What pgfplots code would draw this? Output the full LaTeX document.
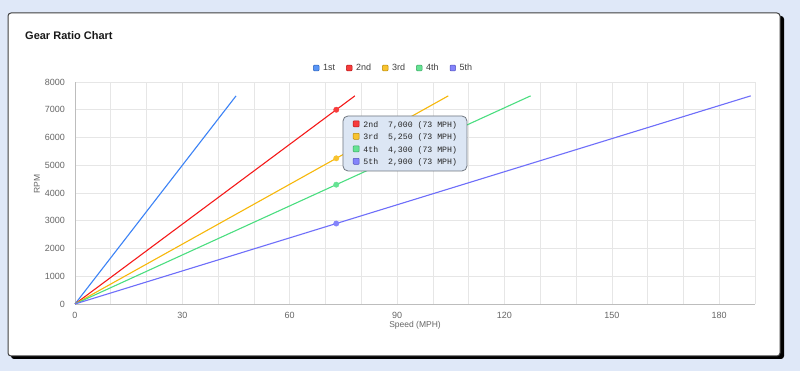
\documentclass[border=0pt]{standalone}
\usepackage{pgfplots}
\pgfplotsset{compat=1.18}
\usepackage{fontspec}
\setmainfont{Liberation Sans}
\newfontfamily\monofont{Liberation Mono}
\definecolor{bg}{HTML}{DFE8F8}
\definecolor{cA}{HTML}{3B82F6}
\definecolor{cB}{HTML}{F51A1A}
\definecolor{cC}{HTML}{F7B80A}
\definecolor{cD}{HTML}{4ADE80}
\definecolor{cE}{HTML}{6E6EFA}
\definecolor{tickgray}{HTML}{666666}
\definecolor{gridgray}{HTML}{E6E6E6}
\definecolor{axisgray}{HTML}{BDBDBD}
\definecolor{tipfill}{HTML}{DCE6F4}
\definecolor{tipdraw}{HTML}{707780}
\newcommand{\sq}[1]{\tikz[baseline=-0.5pt]\filldraw[fill=#1!85,draw=#1!75!black,line width=0.5pt,rounded corners=0.8pt] (0,0) rectangle (6pt,6pt);}
\begin{document}
\begin{tikzpicture}[x=1pt,y=1pt]
\fill[bg] (0,0) rectangle (800,371);
\fill[black,rounded corners=3pt] (11,12) rectangle (784,355);
\filldraw[fill=white,draw=black!75,line width=1pt,rounded corners=3pt] (8,15) rectangle (780,358);
\node[anchor=base west,inner sep=0pt,font=\fontsize{11}{13}\selectfont\bfseries,text=black!90] at (25,331) {Gear Ratio Chart};
\begin{axis}[
  at={(75pt,67pt)}, anchor=south west,
  scale only axis, width=680pt, height=222pt,
  xmin=0, xmax=190, ymin=0, ymax=8000,
  xtick={0,30,60,90,120,150,180},
  minor xtick={10,20,40,50,70,80,100,110,130,140,160,170,190},
  ytick={0,1000,...,8000},
  grid=both,
  major grid style={gridgray,line width=0.6pt},
  minor grid style={gridgray,line width=0.6pt},
  axis lines=left,
  axis line style={axisgray,line width=0.8pt,-},
  major tick length=0pt, minor tick length=0pt,
  /pgf/number format/assume math mode=true,
  scaled y ticks=false,
  yticklabel={\pgfmathprintnumber[fixed,1000 sep={}]{\tick}},
  ticklabel style={font=\fontsize{9}{11}\selectfont, text=tickgray},
  yticklabel style={xshift=-6.5pt},
  xticklabel style={yshift=-5pt},
  xlabel={Speed (MPH)}, ylabel={RPM},
  label style={font=\fontsize{8.5}{10}\selectfont, text=tickgray},
  xlabel style={at={(axis description cs:0.5,0)},anchor=base,yshift=-24pt},
  ylabel style={at={(axis description cs:-0.056,0.54)},anchor=center},
  legend columns=5,
  legend style={at={(axis description cs:0.468,1.063)},anchor=center,draw=none,fill=none,
    font=\fontsize{9}{11}\selectfont, text=black!75,
    /tikz/every even column/.append style={column sep=10pt},
    /tikz/every odd column/.append style={column sep=2.5pt},
    nodes={inner sep=1.2pt}},
  clip=false,
]
\addlegendimage{legend image code/.code={\filldraw[fill=cA!85,draw=cA!75!black,line width=0.5pt,rounded corners=0.8pt] (0pt,-2.8pt) rectangle (5.6pt,2.8pt);}}
\addlegendentry{1st}
\addlegendimage{legend image code/.code={\filldraw[fill=cB!85,draw=cB!75!black,line width=0.5pt,rounded corners=0.8pt] (0pt,-2.8pt) rectangle (5.6pt,2.8pt);}}
\addlegendentry{2nd}
\addlegendimage{legend image code/.code={\filldraw[fill=cC!85,draw=cC!75!black,line width=0.5pt,rounded corners=0.8pt] (0pt,-2.8pt) rectangle (5.6pt,2.8pt);}}
\addlegendentry{3rd}
\addlegendimage{legend image code/.code={\filldraw[fill=cD!85,draw=cD!75!black,line width=0.5pt,rounded corners=0.8pt] (0pt,-2.8pt) rectangle (5.6pt,2.8pt);}}
\addlegendentry{4th}
\addlegendimage{legend image code/.code={\filldraw[fill=cE!85,draw=cE!75!black,line width=0.5pt,rounded corners=0.8pt] (0pt,-2.8pt) rectangle (5.6pt,2.8pt);}}
\addlegendentry{5th}
\addplot[cA,line width=1.1pt,forget plot] coordinates {(0,0) (45,7500)};
\addplot[cB,line width=1.1pt,forget plot] coordinates {(0,0) (78.2,7500)};
\addplot[cC,line width=1.1pt,forget plot] coordinates {(0,0) (104.3,7500)};
\addplot[cD,line width=1.1pt,forget plot] coordinates {(0,0) (127.3,7500)};
\addplot[cE,line width=1.1pt,forget plot] coordinates {(0,0) (188.8,7500)};
\addplot[cB!85,only marks,mark=*,mark size=2.7pt,forget plot] coordinates {(73,7000)};
\addplot[cC!85,only marks,mark=*,mark size=2.7pt,forget plot] coordinates {(73,5250)};
\addplot[cD!85,only marks,mark=*,mark size=2.7pt,forget plot] coordinates {(73,4300)};
\addplot[cE!85,only marks,mark=*,mark size=2.7pt,forget plot] coordinates {(73,2900)};
\node[fill=tipfill,draw=tipdraw,line width=0.8pt,rounded corners=5pt,
      minimum width=124pt,minimum height=55pt,inner sep=0pt,align=left,
      font=\monofont\fontsize{8.2}{12.5}\selectfont, text=black!85]
  at (axis cs:92.2,5784) {%
  \sq{cB}\hspace{4pt}2nd\ \ 7,000 (73 MPH)\\
  \sq{cC}\hspace{4pt}3rd\ \ 5,250 (73 MPH)\\
  \sq{cD}\hspace{4pt}4th\ \ 4,300 (73 MPH)\\
  \sq{cE}\hspace{4pt}5th\ \ 2,900 (73 MPH)};
\end{axis}
\pgfresetboundingbox
\useasboundingbox (0,0) rectangle (800,371);
\end{tikzpicture}
\end{document}
